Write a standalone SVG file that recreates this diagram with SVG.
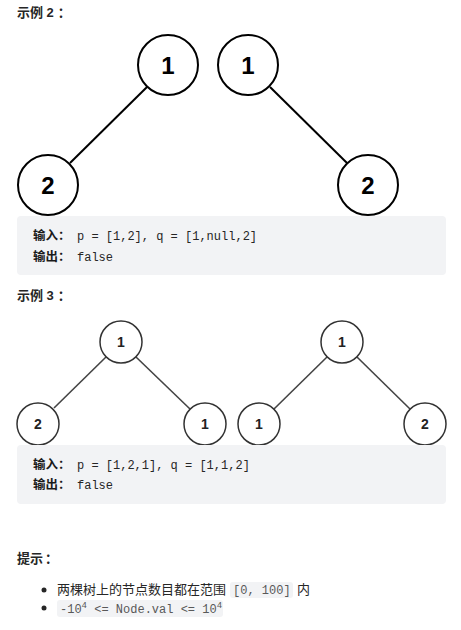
<svg xmlns="http://www.w3.org/2000/svg" width="461" height="630" viewBox="0 0 461 630">
<style>
.h{font-family:"Liberation Sans","Noto Sans CJK SC",sans-serif;font-weight:bold;font-size:13px;fill:#262626}
.big circle{fill:#fff;stroke:#000;stroke-width:2}
.big text{font-family:"Liberation Sans",Arial,sans-serif;font-weight:bold;font-size:24px;fill:#000;text-anchor:middle}
.sm circle{fill:#fff;stroke:#333;stroke-width:1.5}
.sm text{font-family:"Liberation Sans",Arial,sans-serif;font-weight:bold;font-size:14px;fill:#222;text-anchor:middle}
.e1{stroke:#000;stroke-width:2;fill:none}
.e2{stroke:#444;stroke-width:1.6;fill:none}
.box{fill:#f2f3f5}
.lbl{font-family:"Noto Sans CJK SC",sans-serif;font-weight:bold;font-size:12.5px;fill:#1a1a1a}
.code{font-family:"Liberation Mono",monospace;font-size:12px;fill:#262626}
.body{font-family:"Noto Sans CJK SC",sans-serif;font-size:13px;fill:#262626}
.ic{font-family:"Liberation Mono",monospace;font-size:12px;fill:#595959}
.icbg{fill:#f2f3f5}
</style>

<text class="h" x="17" y="17">示例 2<tspan dx="4">：</tspan></text>

<g id="connectors">
<line class="e1" x1="147" y1="87" x2="70" y2="163"/>
<line class="e1" x1="270" y1="87" x2="347" y2="163"/>
<line class="e2" x1="106" y1="357" x2="54" y2="408"/>
<line class="e2" x1="136" y1="357" x2="190" y2="409"/>
<line class="e2" x1="327" y1="357" x2="274" y2="409"/>
<line class="e2" x1="357" y1="357" x2="410" y2="409"/>
</g>

<g id="t1root" class="big"><circle cx="168" cy="65" r="30"/><text x="168" y="74">1</text></g>
<g id="t1left" class="big"><circle cx="48" cy="185" r="30"/><text x="48" y="194">2</text></g>
<g id="t2root" class="big"><circle cx="248" cy="65" r="30"/><text x="248" y="74">1</text></g>
<g id="t2right" class="big"><circle cx="368" cy="185" r="30"/><text x="368" y="194">2</text></g>

<rect class="box" x="17" y="216" width="429" height="59" rx="4"/>
<text class="lbl" x="33" y="240">输入：</text>
<text class="code" x="77" y="240">p = [1,2], q = [1,null,2]</text>
<text class="lbl" x="33" y="261">输出：</text>
<text class="code" x="77" y="261">false</text>

<text class="h" x="17" y="300">示例 3<tspan dx="4">：</tspan></text>

<g id="t3root" class="sm"><circle cx="121" cy="342" r="21"/><text x="121" y="347">1</text></g>
<g id="t3left" class="sm"><circle cx="38" cy="424" r="21"/><text x="38" y="429">2</text></g>
<g id="t3right" class="sm"><circle cx="205" cy="424" r="21"/><text x="205" y="429">1</text></g>
<g id="t4root" class="sm"><circle cx="342" cy="342" r="21"/><text x="342" y="347">1</text></g>
<g id="t4left" class="sm"><circle cx="259" cy="424" r="21"/><text x="259" y="429">1</text></g>
<g id="t4right" class="sm"><circle cx="425" cy="424" r="21"/><text x="425" y="429">2</text></g>

<rect class="box" x="17" y="445" width="429" height="59" rx="4"/>
<text class="lbl" x="33" y="469">输入：</text>
<text class="code" x="77" y="469">p = [1,2,1], q = [1,1,2]</text>
<text class="lbl" x="33" y="489">输出：</text>
<text class="code" x="77" y="489">false</text>

<text class="h" x="17" y="563">提示<tspan dx="2">：</tspan></text>

<circle cx="44" cy="590" r="2.5" fill="#262626"/>
<circle cx="44" cy="608" r="2.5" fill="#262626"/>
<text class="body" x="57" y="594">两棵树上的节点数目都在范围</text>
<rect class="icbg" x="230" y="582" width="63" height="16" rx="3"/>
<text class="ic" x="233" y="594">[0, 100]</text>
<text class="body" x="297" y="594">内</text>
<rect class="icbg" x="57" y="600" width="166" height="17" rx="3"/>
<text class="ic" x="60" y="613">-10<tspan font-size="9" dy="-5">4</tspan><tspan dy="5"> &lt;= Node.val &lt;= 10</tspan><tspan font-size="9" dy="-5">4</tspan></text>
</svg>
